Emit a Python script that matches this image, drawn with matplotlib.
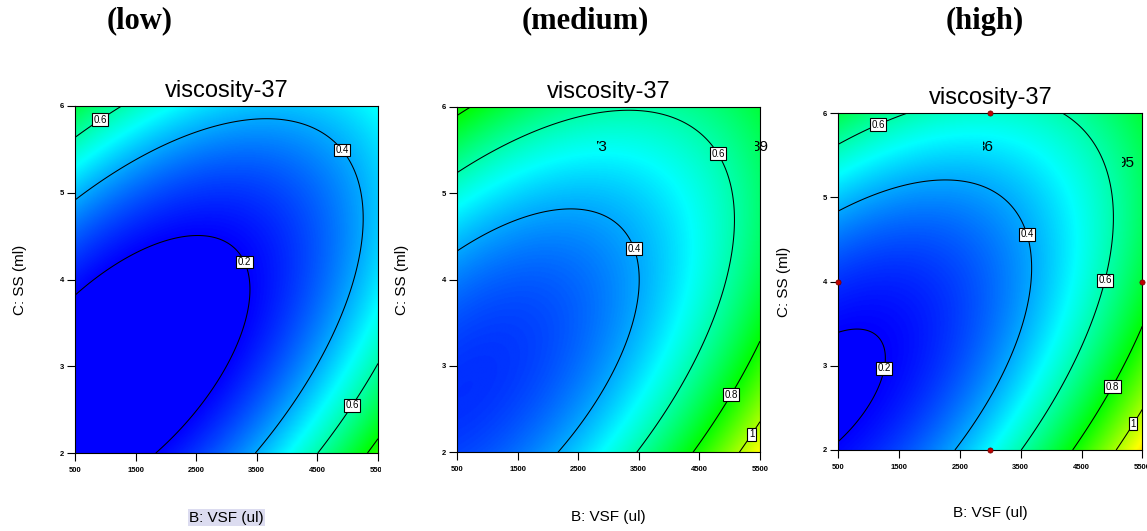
import numpy as np
import matplotlib
matplotlib.use('Agg')
import matplotlib.pyplot as plt
from matplotlib.colors import LinearSegmentedColormap
from matplotlib.transforms import Bbox, TransformedBbox

plt.rcParams['font.family'] = ['Liberation Sans', 'DejaVu Sans']

# points: VSF (ul), SS (ml), contour level
low_vsf = [500, 2513, 3355, 3420, 3355, 3110, 2560, 1850,
           500, 1460, 2560, 3670, 4760, 5090, 5240, 5180, 5040, 4540, 3990, 3500,
           500, 1210, 5500, 5040, 4510,
           5500, 5340]
low_ss = [3.80, 4.52, 4.22, 3.80, 3.65, 3.00, 2.53, 2.00,
          4.92, 5.34, 5.72, 5.85, 5.58, 5.26, 4.69, 4.03, 3.88, 3.11, 2.58, 2.00,
          5.63, 5.99, 3.01, 2.58, 2.00,
          2.14, 2.00]
low_lev = [0.2] * 8 + [0.4] * 12 + [0.6] * 5 + [0.8] * 2

med_vsf = [500, 1320, 2370, 3140, 3465, 3520, 3250, 2700, 2150,
           500, 1600, 3250, 4350, 4840, 5060, 4950, 4350, 3960, 3490,
           500, 690, 5500, 5010, 4460,
           5500, 5340, 5200]
med_ss = [4.32, 4.65, 4.81, 4.61, 4.37, 3.80, 3.11, 2.53, 2.00,
          5.23, 5.65, 5.94, 5.73, 5.47, 4.88, 3.80, 3.11, 2.53, 2.00,
          5.90, 6.00, 3.22, 2.64, 2.00,
          2.45, 2.22, 2.00]
med_lev = [0.4] * 9 + [0.6] * 10 + [0.8] * 5 + [1.0] * 3

high_vsf = [500, 857, 1240, 1296, 1268, 1021, 500,
            500, 1296, 2230, 3105, 3625, 3707, 3435, 2940, 2447,
            500, 1130, 1734, 4092, 4640, 4970, 5023, 4930, 4310, 3870, 3540,
            5500, 4970, 4390,
            5500, 5310, 5105]
high_ss = [3.43, 3.46, 3.27, 3.15, 2.97, 2.59, 2.16,
           4.83, 5.09, 5.20, 5.03, 4.57, 4.06, 3.23, 2.59, 2.00,
           5.61, 5.91, 6.00, 6.00, 5.72, 5.21, 4.61, 4.01, 3.03, 2.44, 2.00,
           3.43, 2.77, 2.00,
           2.46, 2.33, 2.00]
high_lev = [0.2] * 7 + [0.4] * 9 + [0.6] * 11 + [0.8] * 3 + [1.0] * 3

levels = [0.2, 0.4, 0.6, 0.8, 1.0, 1.2]
x_ticks = [500, 1500, 2500, 3500, 4500, 5500]
y_ticks = [2, 3, 4, 5, 6]

# label spots
low_labels = [(860, 5.9), (4920, 5.5), (3355, 4.22), (5030, 2.57)]
med_labels = [(4840, 5.47), (3465, 4.37), (4990, 2.68), (5335, 2.22)]
high_labels = [(1130, 5.91), (3625, 4.57), (4930, 4.01), (1268, 2.97), (4970, 2.77), (5310, 2.33)]

# design points (high panel only)
dp_vsf = [3000, 500, 5500, 3000]
dp_ss = [6, 4, 4, 2]

# stray text bits: text, x-right, y, clip-left
med_bits = [('73', 2975, 5.53, 2810), ('39', 5632, 5.53, 5417)]
high_bits = [('36', 3044, 5.60, 2880), ('95', 5363, 5.41, 5170)]

de_cmap = LinearSegmentedColormap.from_list(
    'de', [(0, '#0000ff'), (0.25, '#00ffff'), (0.5, '#00ff00'), (0.75, '#ffff00'), (1, '#ff0000')])


def fit_surface(vsf, ss, lev):
    b = (np.array(vsf) - 3000) / 2500.0
    c = (np.array(ss) - 4) / 2.0
    A = np.column_stack([np.ones_like(b), b, c, b * c, b ** 2, c ** 2])
    return np.linalg.lstsq(A, np.array(lev), rcond=None)[0]


def surface(coef, B, C):
    b = (B - 3000) / 2500.0
    c = (C - 4) / 2.0
    return coef[0] + coef[1] * b + coef[2] * c + coef[3] * b * c + coef[4] * b ** 2 + coef[5] * c ** 2


fig = plt.figure(figsize=(11.47, 5.31), dpi=100)
W, H = 1147.0, 531.0
boxes = [(75, 106, 378, 453), (457, 106.7, 760, 452.3), (838.3, 113.3, 1142.3, 450)]
panels = [(low_vsf, low_ss, low_lev, low_labels, []),
          (med_vsf, med_ss, med_lev, med_labels, med_bits),
          (high_vsf, high_ss, high_lev, high_labels, high_bits)]
tick_clip = [381, 771, 1147]

gb = np.linspace(500, 5500, 400)
gc = np.linspace(2, 6, 400)
GB, GC = np.meshgrid(gb, gc)

for i, (vsf, ss, lev, labs, bits) in enumerate(panels):
    l, t, r, btm = boxes[i]
    ax = fig.add_axes([l / W, 1 - btm / H, (r - l) / W, (btm - t) / H])
    coef = fit_surface(vsf, ss, lev)
    Z = surface(coef, GB, GC)
    ax.imshow(Z, extent=[500, 5500, 2, 6], origin='lower', aspect='auto',
              cmap=de_cmap, vmin=0.2, vmax=1.4, interpolation='bilinear')
    cs = ax.contour(GB, GC, Z, levels=levels, colors='black', linewidths=0.75)
    txts = ax.clabel(cs, levels=levels, manual=labs, inline=False,
                     fmt=lambda v: f'{v:g}', fontsize=7)
    for tx in txts:
        tx.set_rotation(0)
        tx.set_bbox(dict(boxstyle='square,pad=0.15', fc='white', ec='black', lw=0.8))
    for s, xr, yy, xclip in bits:
        tb = ax.text(xr, yy, s, ha='right', va='center', fontsize=11, clip_on=True)
        tb.set_clip_path(None)
        tb.set_clip_box(TransformedBbox(Bbox.from_extents(xclip, 2, 7000, 6), ax.transData))
    if i == 2:
        ax.scatter(dp_vsf, dp_ss, s=14, c='#c00000', edgecolors='#700000',
                   linewidths=0.5, zorder=5, clip_on=False)
    ax.set_xlim(500, 5500)
    ax.set_ylim(2, 6)
    ax.set_xticks(x_ticks)
    ax.set_yticks(y_ticks)
    ax.tick_params(direction='out', length=6, width=0.8, labelsize=5.5)
    ax.tick_params(axis='x', pad=4)
    ax.tick_params(axis='y', pad=2)
    for lb in ax.get_xticklabels() + ax.get_yticklabels():
        lb.set_fontweight('bold')
    for sp in ax.spines.values():
        sp.set_linewidth(0.8)
    ax.set_title('viscosity-37', fontsize=17, pad=6.5)
    xl = ax.set_xlabel('B: VSF (ul)', fontsize=11)
    ax.xaxis.set_label_coords(0.5, -0.167)
    ax.set_ylabel('C: SS (ml)', fontsize=11)
    ax.yaxis.set_label_coords(-0.157, 0.5)
    if i == 0:
        xl.set_bbox(dict(boxstyle='square,pad=0.1', fc='#dcdcf0', ec='none'))
    lbl = ax.xaxis.get_major_ticks()[-1].label1
    lbl.set_clip_on(True)
    lbl.set_clip_box(TransformedBbox(Bbox.from_extents(0, 0, tick_clip[i] / W, 1), fig.transFigure))

heads = [('(low)', 140), ('(medium)', 585), ('(high)', 985)]
for s, xc in heads:
    fig.text(xc / W, 1 - 21 / H, s, ha='center', va='center', fontsize=22,
             fontweight='bold', family='Liberation Serif')

fig.savefig('out.png', dpi=100)
